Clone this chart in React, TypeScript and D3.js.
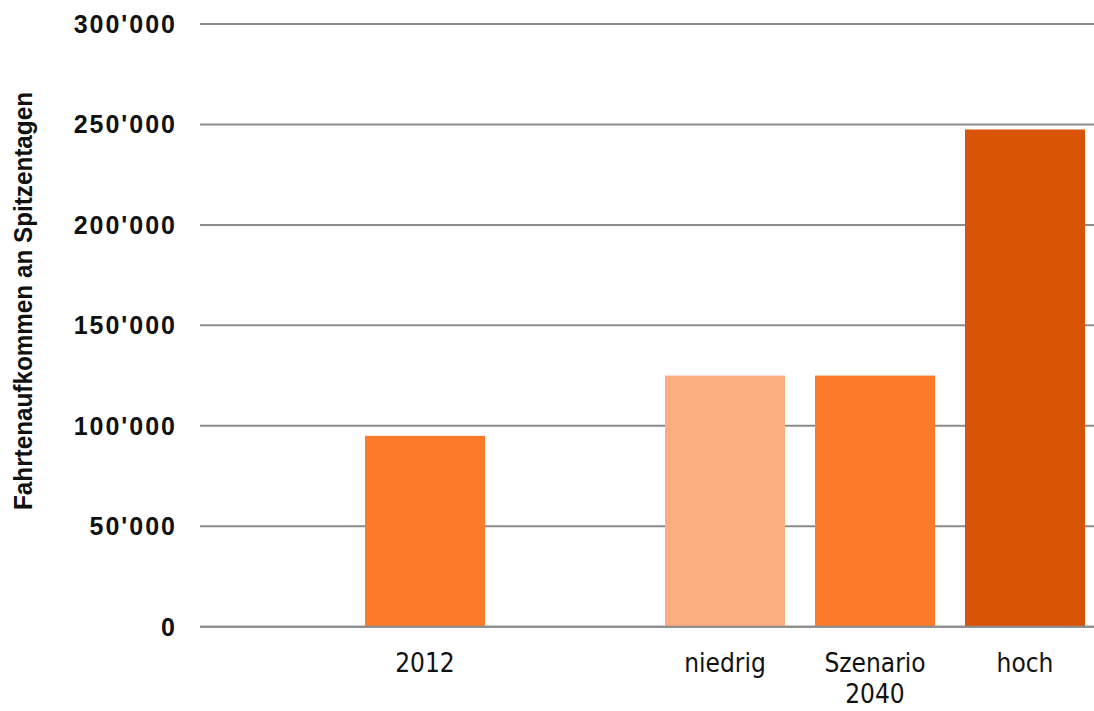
import React from "react";
import * as d3 from "d3";

const categories = ["gap1", "2012", "gap2", "niedrig", "szenario", "hoch"];
const categoryLabels = [[], ["2012"], [], ["niedrig"], ["Szenario", "2040"], ["hoch"]];
const values = [null, 95000, null, 125000, 125000, 247500];
const barColors = [null, "#FC7B2A", null, "#FDAE80", "#FC7B2A", "#D95406"];
const yTicks = [0, 50000, 100000, 150000, 200000, 250000, 300000];
const yTitle = "Fahrtenaufkommen an Spitzentagen";

const W = 1094;
const H = 711;

export default function App() {
  const x = d3.scaleBand<string>().domain(categories).range([200, 1100]).paddingInner(0.2).paddingOuter(0.1);
  const y = d3.scaleLinear().domain([0, 300000]).range([626.7, 24]);
  const fmt = (v: number) => d3.format(",")(v).replace(/,/g, "'");
  return (
    <svg width={W} height={H} style={{ position: "absolute", left: 0, top: 0, background: "#fff" }}>
      {yTicks.map((t) => (
        <g key={t}>
          <line x1={200} x2={W} y1={y(t)} y2={y(t)} stroke="#8c8c8c" strokeWidth={2} />
          <text x={177} y={y(t)} dy="0.36em" textAnchor="end" fontFamily="Liberation Sans, Arial, sans-serif" fontWeight={700} fontSize={25} letterSpacing={2} fill="#111">
            {fmt(t)}
          </text>
        </g>
      ))}
      {categories.map((c, i) =>
        values[i] == null ? null : (
          <rect key={c} x={x(c)} width={x.bandwidth()} y={y(values[i] as number)} height={y(0) - y(values[i] as number)} fill={barColors[i] as string} />
        )
      )}
      <line x1={200} x2={W} y1={y(0)} y2={y(0)} stroke="#8c8c8c" strokeWidth={2} />
      {categories.map((c, i) => (
        <text key={c} x={(x(c) as number) + x.bandwidth() / 2} y={672} textAnchor="middle" fontFamily="Liberation Sans Narrow, DejaVu Sans Condensed, sans-serif" fontSize={26} fill="#111">
          {categoryLabels[i].map((l, j) => (
            <tspan key={j} x={(x(c) as number) + x.bandwidth() / 2} dy={j === 0 ? 0 : 31}>{l}</tspan>
          ))}
        </text>
      ))}
      <text transform={`translate(32,301) rotate(-90)`} textAnchor="middle" fontFamily="Liberation Sans, Arial, sans-serif" fontWeight={700} fontSize={25} textLength={418} lengthAdjust="spacingAndGlyphs" fill="#111">
        {yTitle}
      </text>
    </svg>
  );
}
